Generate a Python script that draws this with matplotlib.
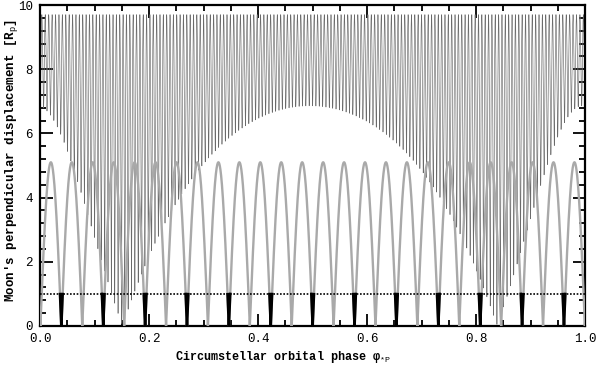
import numpy as np
import matplotlib
matplotlib.use('Agg')
import matplotlib.pyplot as plt

plt.rcParams['font.family'] = ['Liberation Mono', 'DejaVu Sans Mono']
plt.rcParams['mathtext.fontset'] = 'custom'
plt.rcParams['mathtext.rm'] = 'Liberation Mono'
plt.rcParams['mathtext.it'] = 'Liberation Mono:italic'
plt.rcParams['mathtext.bf'] = 'Liberation Mono:bold'

# values
# coplanar moon (thick gray): |sin| humps, every other minimum is a transit (black)
gray_amp = 5.1            # R_p
gray_first_zero = 0.0391  # phase of first transit minimum
gray_half_period = 0.03843

# inclined moon (thin black)
thin_amp = 9.7            # R_p
thin_incl = 45.0          # deg
ecc = 0.30                # circumstellar eccentricity
peri_phase = 0.995
n_moon_orbits = 82        # moon orbits per circumstellar orbit

dot_level = 1.0           # R_p

x_ticks = [0.0, 0.2, 0.4, 0.6, 0.8, 1.0]
y_ticks = [0, 2, 4, 6, 8, 10]

phase = np.linspace(0, 1, 40001)

# thin curve: perpendicular distance of moon from the star-planet line
M = 2 * np.pi * (phase - peri_phase)
E = M.copy()
for _ in range(30):
    E = E - (E - ecc * np.sin(E) - M) / (1 - ecc * np.cos(E))
f = 2 * np.arctan2(np.sqrt(1 + ecc) * np.sin(E / 2), np.sqrt(1 - ecc) * np.cos(E / 2))
inc = np.radians(thin_incl)
theta = 2 * np.pi * n_moon_orbits * phase
proj = np.cos(theta) * np.cos(inc) * np.cos(f) + np.sin(theta) * np.sin(f)
thin = thin_amp * np.sqrt(np.clip(1 - proj ** 2, 0, None))

# thick gray curve
gray = gray_amp * np.abs(np.sin(np.pi * (phase - gray_first_zero) / gray_half_period))
k = np.round((phase - gray_first_zero) / gray_half_period).astype(int)
transit = np.where((gray < dot_level) & (k % 2 == 0), gray, np.nan)

fig = plt.figure(figsize=(6, 3.66), dpi=100)
ax = fig.add_axes([0.0667, 0.1093, 0.9083, 0.877])

ax.plot(phase, thin, color='#6a6a6a', lw=0.45, zorder=2)
ax.plot(phase, gray, color='#a9a9a9', lw=1.7, zorder=3)
ax.plot(phase, transit, color='black', lw=1.9, zorder=4)
ax.axhline(dot_level, color='black', lw=1.2, ls=(0, (1, 1)), zorder=5)

ax.set_xlim(0, 1)
ax.set_ylim(0, 10)
ax.set_xticks(x_ticks)
ax.set_xticklabels(['%.1f' % t for t in x_ticks])
ax.set_yticks(y_ticks)
ax.set_yticklabels([str(t) for t in y_ticks])
ax.set_xticks(np.arange(0, 1.001, 0.05), minor=True)
ax.set_yticks(np.arange(0, 10.001, 0.4), minor=True)
ax.tick_params(which='both', direction='in', top=True, right=True, width=1.3, labelsize=9, colors='black')
ax.tick_params(which='major', length=9, pad=5)
ax.tick_params(which='minor', length=4.5)
for s in ax.spines.values():
    s.set_linewidth(1.6)

ax.set_xlabel('Circumstellar orbital phase φ$_{*\\mathrm{P}}$', fontsize=8.5, fontweight='bold', labelpad=3)
ax.xaxis.label.set_x(0.445)
fig.text(12 / 600, 1 - 160 / 366, "Moon's perpendicular displacement [R$_\\mathrm{p}$]",
         rotation=90, ha='center', va='center', fontsize=9, fontweight='bold')

fig.savefig('out.png', dpi=100)
